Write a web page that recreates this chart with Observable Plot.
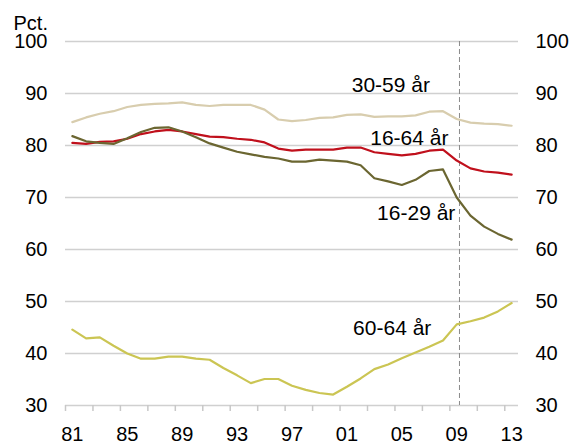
<!DOCTYPE html>
<html>
<head>
<meta charset="utf-8">
<script src="https://cdn.jsdelivr.net/npm/d3@7"></script>
<script src="https://cdn.jsdelivr.net/npm/@observablehq/plot@0.6"></script>
<style>
  html, body { margin: 0; padding: 0; background: #fff; }
  #chart { position: relative; width: 571px; height: 444px; }
  svg { font-family: "Liberation Sans", Arial, sans-serif; }
</style>
</head>
<body>
<div id="chart"></div>
<script>
const years = d3.range(1981, 2014);
const age30_59 = [84.5,85.4,86.1,86.6,87.4,87.8,88.0,88.1,88.3,87.8,87.6,87.8,87.8,87.8,86.9,85.0,84.7,84.9,85.3,85.4,85.9,86.0,85.5,85.6,85.6,85.8,86.5,86.6,85.1,84.4,84.2,84.1,83.8];
const age16_64 = [80.5,80.3,80.7,80.8,81.3,82.2,82.7,83.0,82.7,82.2,81.7,81.6,81.3,81.1,80.6,79.4,79.0,79.2,79.2,79.2,79.6,79.6,78.7,78.4,78.1,78.4,79.0,79.2,77.1,75.6,75.0,74.8,74.4];
const age16_29 = [81.8,80.8,80.5,80.3,81.4,82.6,83.4,83.5,82.7,81.6,80.4,79.6,78.8,78.3,77.8,77.5,76.9,76.9,77.3,77.1,76.9,76.2,73.7,73.1,72.4,73.4,75.1,75.4,70.0,66.5,64.4,63.0,61.9];
const age60_64 = [44.6,42.9,43.1,41.5,40.0,39.0,39.0,39.4,39.4,39.0,38.8,37.2,35.8,34.3,35.1,35.1,33.8,33.0,32.4,32.1,33.6,35.2,37.0,37.9,39.1,40.2,41.3,42.5,45.6,46.2,46.9,48.1,49.7];

const seriesNames = ["30-59 år", "16-64 år", "16-29 år", "60-64 år"];
const seriesColors = ["#d8cdae", "#c0101c", "#6b6631", "#cbc553"];
const seriesValues = [age30_59, age16_64, age16_29, age60_64];

const labelX = [2004.2, 2005.55, 2006.05, 2004.3];
const labelY = [90.3, 80.1, 65.7, 43.6];

const yTicks = [30, 40, 50, 60, 70, 80, 90, 100];
const xLabelTicks = [1981, 1985, 1989, 1993, 1997, 2001, 2005, 2009, 2013];
const xTickMarks = d3.range(1980.5, 2014, 2);
const forecastLine = [2009.2];
const unitLabel = "Pct.";

const rows = [];
seriesNames.forEach((name, i) => {
  years.forEach((yr, j) => rows.push({series: name, year: yr, value: seriesValues[i][j]}));
});
const labels = seriesNames.map((name, i) => ({text: name, x: labelX[i], y: labelY[i]}));

const plot = Plot.plot({
  width: 571,
  height: 444,
  marginLeft: 65,
  marginRight: 53,
  marginTop: 41,
  marginBottom: 39,
  style: {fontFamily: "Liberation Sans, Arial, sans-serif", fontSize: "20px", color: "#000", background: "#fff"},
  x: {domain: [1980.5, 2013.5]},
  y: {domain: [30, 100]},
  color: {domain: seriesNames, range: seriesColors},
  marks: [
    Plot.ruleY(yTicks, {stroke: "#d0d0d0", strokeWidth: 1.5}),
    Plot.ruleX(forecastLine, {stroke: "#8a8a8a", strokeDasharray: "5,3", strokeWidth: 1}),
    Plot.axisY({anchor: "left", ticks: yTicks, tickSize: 0, tickPadding: 18, label: null, fontSize: 20}),
    Plot.axisY({anchor: "right", ticks: yTicks, tickSize: 0, tickPadding: 17, label: null, fontSize: 20}),
    Plot.axisX({ticks: xTickMarks, tickSize: 6, tickFormat: () => "", label: null, stroke: "#c8c8c8", strokeWidth: 1.5}),
    Plot.axisX({ticks: xLabelTicks, tickSize: 0, tickPadding: 21, tickFormat: d => String(d % 100).padStart(2, "0"), label: null, fontSize: 20}),
    Plot.line(rows, {x: "year", y: "value", z: "series", stroke: "series", strokeWidth: 2.2, curve: "linear"}),
    Plot.text(labels, {x: "x", y: "y", text: "text", textAnchor: "middle", lineAnchor: "bottom", fontSize: 21, fill: "#000"}),
    Plot.text([unitLabel], {frameAnchor: "top-left", dx: -52, dy: -12, lineAnchor: "bottom", textAnchor: "start", fontSize: 20, fill: "#000"})
  ]
});
document.getElementById("chart").appendChild(plot);
</script>
</body>
</html>
